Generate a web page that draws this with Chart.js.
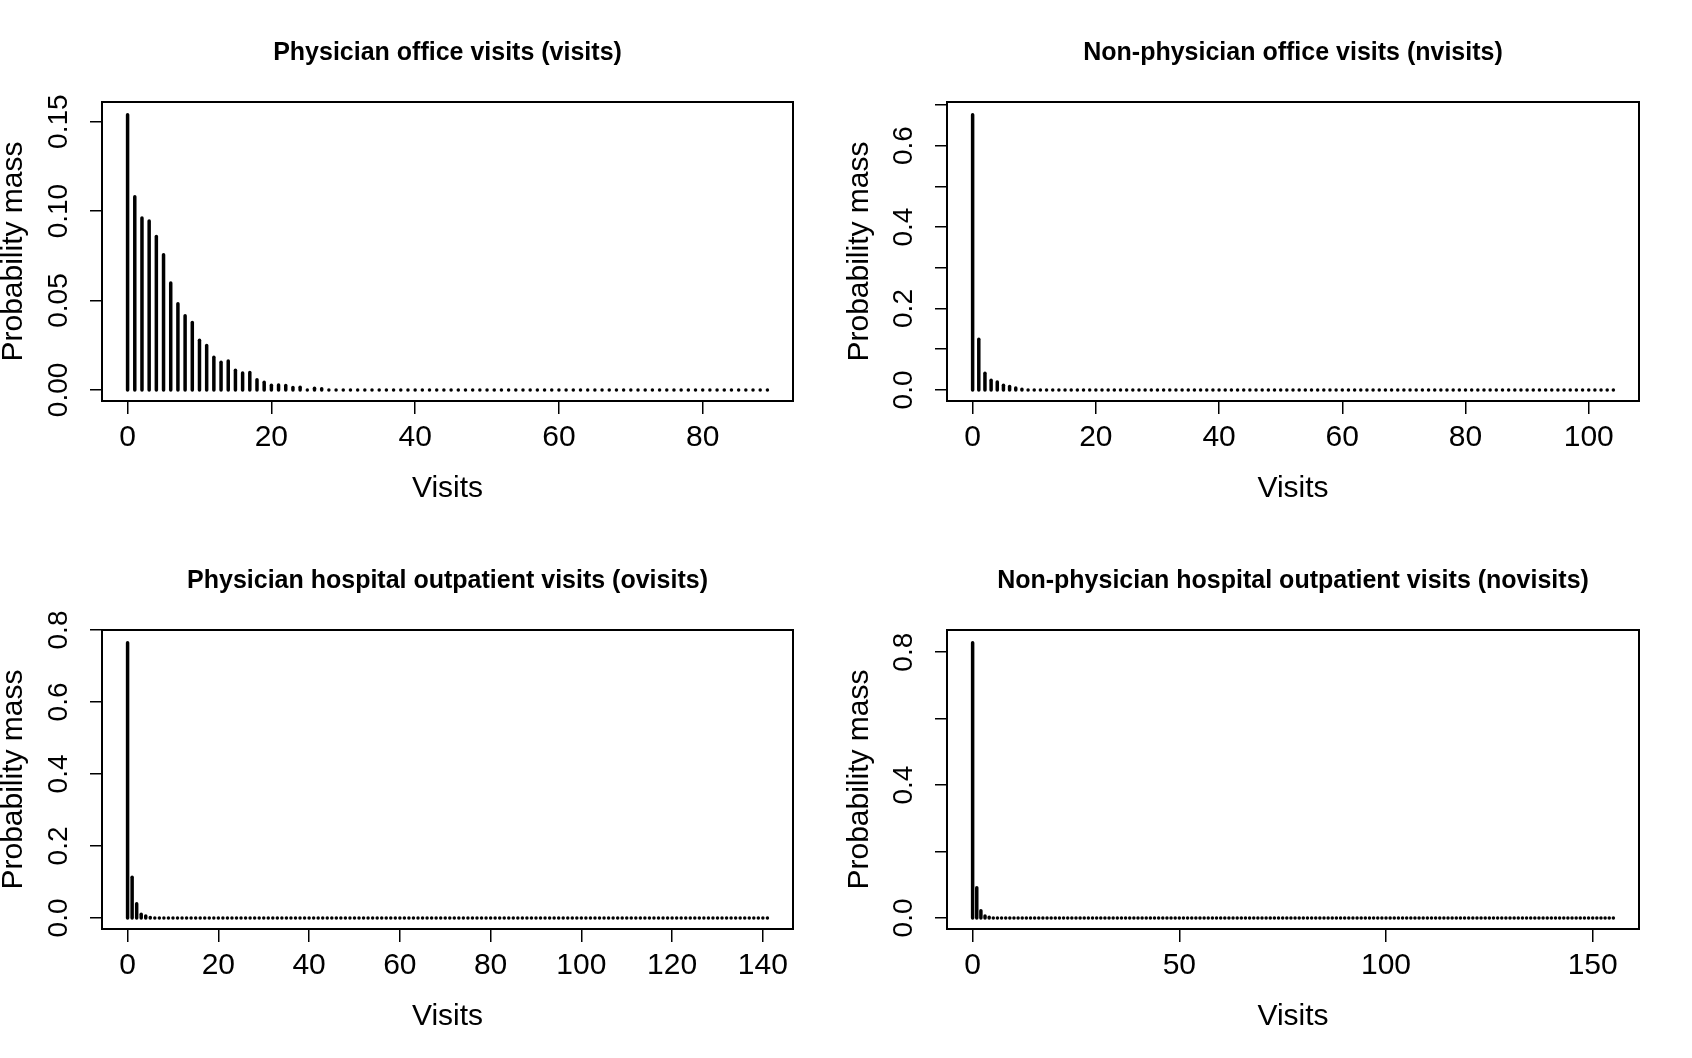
<!DOCTYPE html>
<html>
<head>
<meta charset="utf-8">
<title>Probability mass of visits</title>
<script src="https://cdn.jsdelivr.net/npm/chart.js@4.4.1/dist/chart.umd.min.js"></script>
<style>
  html, body { margin: 0; padding: 0; background: #fff; }
  #wrap { position: relative; width: 1692px; height: 1058px; overflow: hidden; }
  canvas { position: absolute; }
</style>
</head>
<body>
<div id="wrap">
  <canvas id="c1" width="846" height="529" style="left:0;top:0"></canvas>
  <canvas id="c2" width="846" height="529" style="left:846px;top:0"></canvas>
  <canvas id="c3" width="846" height="529" style="left:0;top:528px"></canvas>
  <canvas id="c4" width="846" height="529" style="left:846px;top:528px"></canvas>
</div>
<script>
// Share of persons with k visits, k = 0 .. max
const visitsPmf = [
  0.1548, 0.1090, 0.0971, 0.0954, 0.0868, 0.0766, 0.0607, 0.0491, 0.0424, 0.0387,
  0.0288, 0.0258, 0.0193, 0.0165, 0.0172, 0.0120, 0.0105, 0.0107, 0.0066, 0.0053,
  0.0036, 0.0038, 0.0034, 0.0023, 0.0025, 0.0009, 0.0019, 0.0016, 0.0009, 0.0009,
  0.0009, 0.0007, 0.0005, 0.0002, 0.0005, 0.0005, 0.0002, 0.0005, 0.0005, 0.0009,
  0.0005, 0.0002, 0.0007, 0.0002, 0.0002, 0.0002, 0.0005, 0.0002, 0.0002, 0.0002,
  0.0002, 0, 0, 0.0002, 0, 0, 0, 0, 0, 0.0002,
  0, 0, 0, 0, 0, 0, 0, 0, 0, 0,
  0, 0, 0, 0, 0, 0, 0, 0, 0, 0,
  0, 0, 0, 0, 0, 0, 0, 0, 0, 0.0002
];

const nvisitsPmf = [
  0.6800, 0.1290, 0.0450, 0.0280, 0.0240, 0.0160, 0.0127, 0.0093, 0.0061, 0.0043,
  0.0013, 0.0033, 0.0023, 0.0016, 0.0014, 0.0016, 0.0011, 0.0009, 0.0009, 0.0007,
  0.0009, 0.0005, 0.0007, 0.0005, 0.0005, 0.0005, 0.0002, 0.0005, 0.0002, 0.0002,
  0.0005, 0.0002, 0.0002, 0, 0.0002, 0.0002, 0, 0.0002, 0, 0.0002,
  0.0002, 0, 0, 0.0002, 0, 0, 0, 0, 0.0002, 0,
  0, 0, 0, 0, 0, 0, 0, 0, 0, 0,
  0, 0, 0, 0, 0, 0, 0, 0, 0, 0,
  0, 0, 0, 0, 0, 0, 0, 0, 0, 0,
  0, 0, 0, 0, 0, 0, 0, 0, 0, 0,
  0, 0, 0, 0, 0, 0, 0, 0, 0, 0,
  0, 0, 0, 0, 0.0002
];

const ovisitsPmf = [
  0.7692, 0.1180, 0.0440, 0.0150, 0.0100, 0.0060, 0.0030, 0.0016, 0.0014, 0.0011,
  0.0014, 0.0007, 0.0009, 0.0005, 0.0005, 0.0007, 0.0002, 0.0005, 0.0005, 0.0002,
  0.0005, 0.0002, 0.0002, 0, 0.0002, 0.0002, 0, 0, 0.0002, 0,
  0.0002, 0, 0, 0, 0.0002, 0, 0, 0, 0, 0,
  0, 0, 0, 0, 0, 0, 0, 0, 0, 0,
  0, 0, 0, 0, 0, 0, 0, 0, 0, 0,
  0, 0, 0, 0, 0, 0, 0, 0, 0, 0,
  0, 0, 0, 0, 0, 0, 0, 0, 0, 0,
  0, 0, 0, 0, 0, 0, 0, 0, 0, 0,
  0, 0, 0, 0, 0, 0, 0, 0, 0, 0,
  0, 0, 0, 0, 0, 0, 0, 0, 0, 0,
  0, 0, 0, 0, 0, 0, 0, 0, 0, 0,
  0, 0, 0, 0, 0, 0, 0, 0, 0, 0,
  0, 0, 0, 0, 0, 0, 0, 0, 0, 0,
  0, 0.0002
];

const novisitsPmf = [
  0.8334, 0.0960, 0.0270, 0.0110, 0.0070, 0.0030, 0.0027, 0.0020, 0.0018, 0.0014,
  0.0016, 0.0009, 0.0011, 0.0007, 0.0005, 0.0005, 0.0005, 0.0002, 0.0005, 0.0002,
  0.0005, 0.0002, 0, 0.0002, 0.0002, 0, 0.0002, 0, 0, 0.0002,
  0, 0, 0.0002, 0, 0, 0, 0, 0, 0, 0,
  0, 0, 0, 0, 0, 0, 0, 0, 0, 0,
  0, 0, 0, 0, 0, 0, 0, 0, 0, 0,
  0, 0, 0, 0, 0, 0, 0, 0, 0, 0,
  0, 0, 0, 0, 0, 0, 0, 0, 0, 0,
  0, 0, 0, 0, 0, 0, 0, 0, 0, 0,
  0, 0, 0, 0, 0, 0, 0, 0, 0, 0,
  0, 0, 0, 0, 0, 0, 0, 0, 0, 0,
  0, 0, 0, 0, 0, 0, 0, 0, 0, 0,
  0, 0, 0, 0, 0, 0, 0, 0, 0, 0,
  0, 0, 0, 0, 0, 0, 0, 0, 0, 0,
  0, 0, 0, 0, 0, 0, 0, 0, 0, 0,
  0, 0, 0, 0, 0, 0.0002
];

// tick positions and their labels ("" = tick mark without label)
const xTicks1 = [0, 20, 40, 60, 80];
const xTicks2 = [0, 20, 40, 60, 80, 100];
const xTicks3 = [0, 20, 40, 60, 80, 100, 120, 140];
const xTicks4 = [0, 50, 100, 150];

const yTicks1 = [0, 0.05, 0.10, 0.15];
const yLabels1 = ["0.00", "0.05", "0.10", "0.15"];
const yTicks2 = [0, 0.1, 0.2, 0.3, 0.4, 0.5, 0.6, 0.7];
const yLabels2 = ["0.0", "", "0.2", "", "0.4", "", "0.6", ""];
const yTicks3 = [0, 0.2, 0.4, 0.6, 0.8];
const yLabels3 = ["0.0", "0.2", "0.4", "0.6", "0.8"];
const yTicks4 = [0, 0.2, 0.4, 0.6, 0.8];
const yLabels4 = ["0.0", "", "0.4", "", "0.8"];

const FONT = "'Liberation Sans', Arial, Helvetica, sans-serif";
const TICK_SIZE = 28;
const TITLE_SIZE = 25;
const CANVAS_W = 846, CANVAS_H = 529;
const BAR_W = 3.5;

// box() around the plot region
const boxPlugin = {
  id: "box",
  afterDatasetsDraw(chart){
    const a = chart.chartArea;
    const ctx = chart.ctx;
    ctx.save();
    ctx.strokeStyle = "#000";
    ctx.lineWidth = 2;
    ctx.strokeRect(a.left, a.top, a.right - a.left, a.bottom - a.top);
    ctx.restore();
  }
};

function widestLabel(labels){
  const ctx = document.createElement("canvas").getContext("2d");
  ctx.font = TICK_SIZE + "px " + FONT;
  return Math.max(...labels.map(l => ctx.measureText(l).width));
}

function makePanel(id, title, pmf, xTicks, yTicks, yLabels, box){
  const n = pmf.length - 1;
  const top = Math.max(...pmf);
  // same 4% extension R uses for its axis ranges
  const xMin = -0.04 * n, xMax = 1.04 * n;
  const yMin = -0.04 * top, yMax = 1.04 * top;
  const plotH = box.bottom - box.top;
  const yPad = 31 - widestLabel(yLabels) / 2;
  const titleLine = TITLE_SIZE * 1.2;

  return new Chart(document.getElementById(id), {
    type: "bar",
    data: {
      datasets: [{
        data: pmf.map((p, k) => ({ x: k, y: p })),
        backgroundColor: "#000",
        barThickness: BAR_W,
        minBarLength: BAR_W,
        borderRadius: BAR_W / 2,
        borderSkipped: false,
        inflateAmount: 0,
        // round caps in R reach a little below zero
        base: -(BAR_W / 2) * (yMax - yMin) / plotH
      }]
    },
    options: {
      responsive: false,
      animation: false,
      events: [],
      layout: {
        autoPadding: false,
        padding: { left: 0, right: CANVAS_W - box.right, top: 0, bottom: 0 }
      },
      plugins: {
        legend: { display: false },
        tooltip: { enabled: false },
        title: {
          display: true,
          text: title,
          fullSize: false,
          color: "#000",
          font: { family: FONT, size: TITLE_SIZE, weight: "bold", lineHeight: 1.2 },
          padding: { top: 38, bottom: box.top - 38 - titleLine }
        }
      },
      scales: {
        x: {
          type: "linear",
          min: xMin, max: xMax,
          bounds: "data",
          offset: false,
          afterBuildTicks: s => { s.ticks = xTicks.map(v => ({ value: v })); },
          afterFit: s => { s.height = CANVAS_H - box.bottom; },
          ticks: {
            autoSkip: false, maxRotation: 0, padding: 6,
            color: "#000", font: { family: FONT, size: 30 },
            callback: v => String(v)
          },
          grid: { drawOnChartArea: false, offset: false, tickLength: 13, color: "#000", lineWidth: 1.5 },
          border: { display: false },
          title: {
            display: true, text: "Visits", color: "#000",
            font: { family: FONT, size: 30 },
            padding: { top: 0, bottom: 22 }
          }
        },
        y: {
          type: "linear",
          min: yMin, max: yMax,
          bounds: "data",
          afterBuildTicks: s => { s.ticks = yTicks.map(v => ({ value: v })); },
          afterFit: s => { s.width = box.left; },
          ticks: {
            autoSkip: false, minRotation: 90, maxRotation: 90,
            crossAlign: "center", padding: yPad,
            color: "#000", font: { family: FONT, size: TICK_SIZE },
            callback: (v, i) => yLabels[i]
          },
          grid: { drawOnChartArea: false, tickLength: 12, color: "#000", lineWidth: 1.5 },
          border: { display: false },
          title: {
            display: true, text: "Probability mass", color: "#000",
            font: { family: FONT, size: 30, lineHeight: 0.9 },
            padding: 0
          }
        }
      }
    },
    plugins: [boxPlugin]
  });
}

makePanel("c1", "Physician office visits (visits)", visitsPmf, xTicks1, yTicks1, yLabels1,
  { left: 102, right: 793, top: 102, bottom: 401 });
makePanel("c2", "Non-physician office visits (nvisits)", nvisitsPmf, xTicks2, yTicks2, yLabels2,
  { left: 101, right: 793, top: 102, bottom: 401 });
makePanel("c3", "Physician hospital outpatient visits (ovisits)", ovisitsPmf, xTicks3, yTicks3, yLabels3,
  { left: 102, right: 793, top: 102, bottom: 401 });
makePanel("c4", "Non-physician hospital outpatient visits (novisits)", novisitsPmf, xTicks4, yTicks4, yLabels4,
  { left: 101, right: 793, top: 102, bottom: 401 });
</script>
</body>
</html>
